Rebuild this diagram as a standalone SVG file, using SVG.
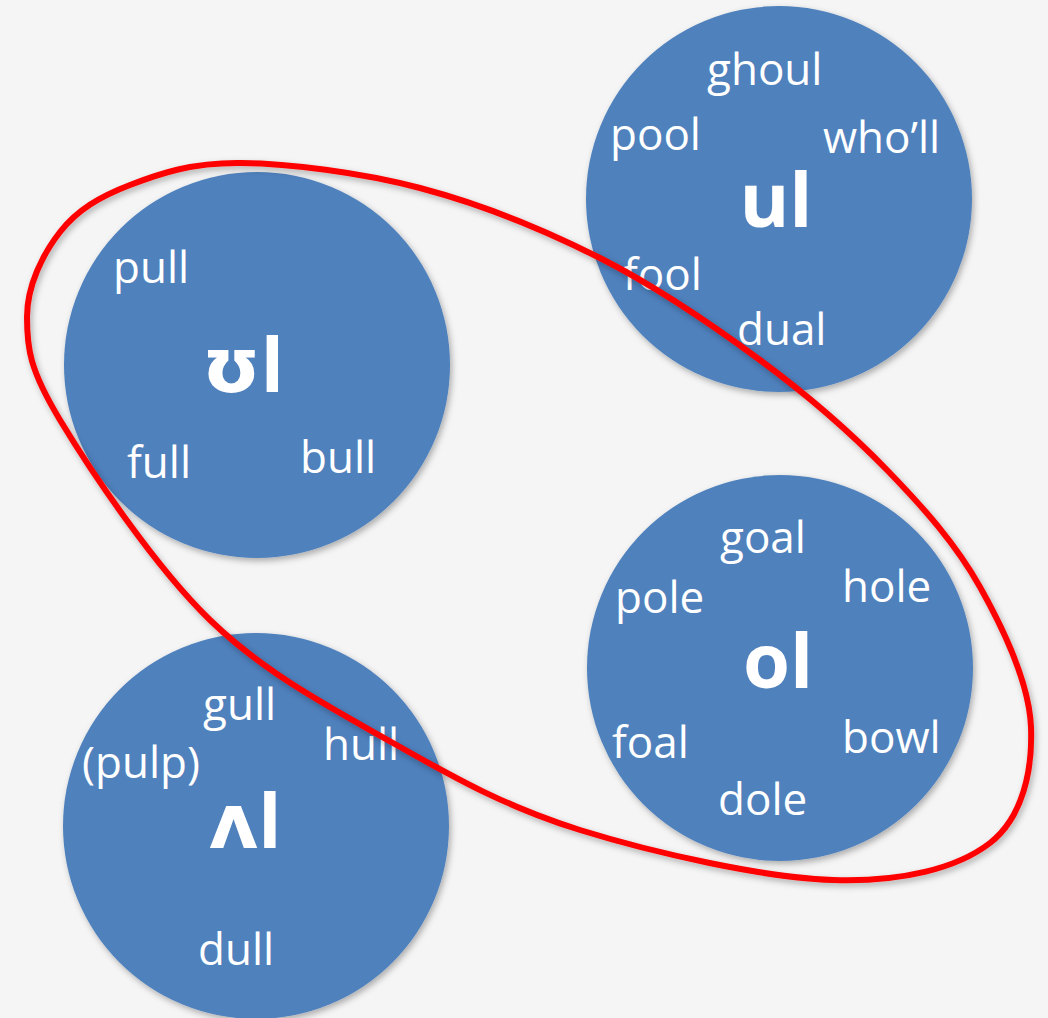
<svg xmlns="http://www.w3.org/2000/svg" width="1048" height="1018" viewBox="0 0 1048 1018">
  <defs>
    <filter id="shadow" x="-10%" y="-10%" width="120%" height="120%">
      <feDropShadow dx="2" dy="3" stdDeviation="3" flood-color="#000" flood-opacity="0.3"/>
    </filter>
    <style>
      .bubble { fill: #4F81BD; filter: url(#shadow); }
      .word { font-family: "Open Sans", "Lato", "DejaVu Sans", sans-serif; font-size: 44px; fill: #FFFFFF; }
      .sound { font-family: "Open Sans", "DejaVu Sans", sans-serif; font-size: 76px; font-weight: bold; fill: #FFFFFF; text-anchor: middle; }
      .loop { fill: none; stroke: #FF0000; stroke-width: 6; filter: url(#shadow); }
    </style>
  </defs>

  <rect width="1048" height="1018" fill="#F5F5F5"/>

  <!-- ʊl group -->
  <g id="node-foot-l">
    <circle class="bubble" cx="257" cy="365" r="193"/>
    <text class="word" x="113" y="283">pull</text>
    <text class="sound" x="243" y="392">ʊl</text>
    <text class="word" x="127" y="478">full</text>
    <text class="word" x="300" y="473">bull</text>
  </g>

  <!-- ul group -->
  <g id="node-goose-l">
    <circle class="bubble" cx="779" cy="199" r="193"/>
    <text class="word" x="707" y="85">ghoul</text>
    <text class="word" x="610" y="150">pool</text>
    <text class="word" x="823" y="153">who’ll</text>
    <text class="sound" x="776" y="227">ul</text>
    <text class="word" x="623" y="290">fool</text>
    <text class="word" x="737" y="345">dual</text>
  </g>

  <!-- ol group -->
  <g id="node-goat-l">
    <circle class="bubble" cx="780" cy="668" r="193"/>
    <text class="word" x="720" y="553">goal</text>
    <text class="word" x="615" y="613">pole</text>
    <text class="word" x="842" y="602">hole</text>
    <text class="sound" x="778" y="688">ol</text>
    <text class="word" x="612" y="758">foal</text>
    <text class="word" x="842" y="753">bowl</text>
    <text class="word" x="718" y="815">dole</text>
  </g>

  <!-- ʌl group -->
  <g id="node-strut-l">
    <circle class="bubble" cx="256" cy="826" r="193"/>
    <text class="word" x="203" y="720">gull</text>
    <text class="word" x="82" y="778">(pulp)</text>
    <text class="word" x="323" y="760">hull</text>
    <text class="sound" x="245" y="848">ʌl</text>
    <text class="word" x="198" y="965">dull</text>
  </g>

  <!-- freehand loop grouping ʊl, ul and ol -->
  <g id="connectors">
    <path class="loop" d="M 240,163
      C 288.3,163.5 360,172.2 420,188
      C 480,203.8 543.3,229.3 600,258
      C 656.7,286.7 712.2,324.7 760,360
      C 807.8,395.3 850.3,432.2 887,470
      C 923.7,507.8 956,544.2 980,587
      C 1004,629.8 1029.3,684.3 1031,727
      C 1032.7,769.7 1023,817.5 990,843
      C 957,868.5 901.3,882.2 833,880
      C 764.7,877.8 653.3,852.8 580,830
      C 506.7,807.2 454.7,778 393,743
      C 331.3,708 265.5,673.8 210,620
      C 154.5,566.2 90.5,470.5 60,420
      C 29.5,369.5 27,348.3 27,317
      C 27,285.7 42.8,254 60,232
      C 77.2,210 100,196.5 130,185
      C 160,173.5 191.7,162.5 240,163 Z"/>
  </g>
</svg>
